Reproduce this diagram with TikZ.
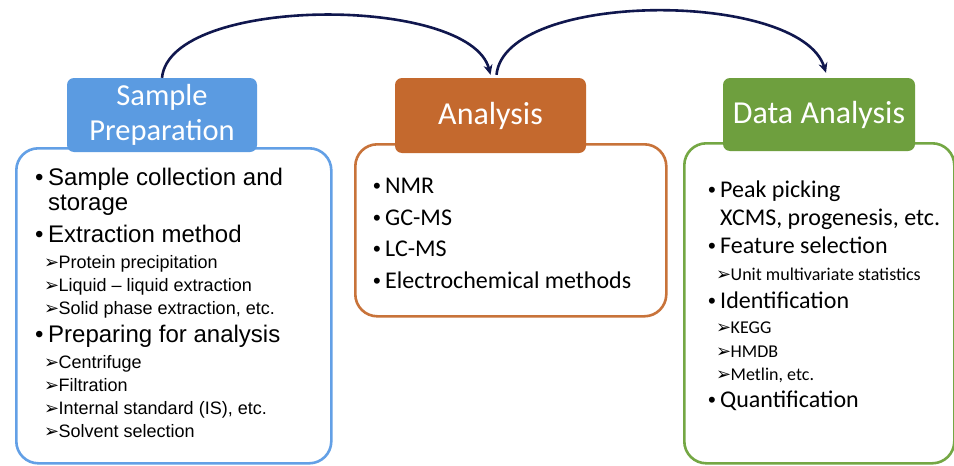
\documentclass[tikz,border=0pt]{standalone}
\usepackage{fontspec}
\setmainfont{Liberation Sans}
\newfontfamily\calfont{Carlito}
\newfontfamily\dvfont{DejaVu Sans}
\newfontfamily\lsfont{Liberation Sans}
\usetikzlibrary{arrows.meta}
\definecolor{spfill}{HTML}{5B9BE1}
\definecolor{spline}{HTML}{63A0E6}
\definecolor{anfill}{HTML}{C4692E}
\definecolor{anline}{HTML}{C8733A}
\definecolor{dafill}{HTML}{6E9F3E}
\definecolor{daline}{HTML}{74A744}
\definecolor{navy}{HTML}{10174E}
\newcommand\bulit[1]{\makebox[13pt][l]{\lsfont •}#1}
\newcommand\cbulit[1]{\makebox[12pt][l]{\lsfont\fontsize{22}{22}\selectfont •}#1}
\newcommand\subit[1]{\makebox[14.5pt][l]{\dvfont\fontsize{18}{18}\selectfont ➢}#1}
\begin{document}
\begin{tikzpicture}[x=1pt,y=-1pt,
  body/.style={draw, line width=2.6pt, rounded corners=22pt, fill=white, inner sep=0pt, anchor=north west},
  hdr/.style={rounded corners=7pt, text=white, align=center, inner sep=0pt, font=\calfont\fontsize{32}{35}\selectfont},
  txt/.style={anchor=base west, inner sep=0pt},
  big/.style={txt, font=\fontsize{24}{28}\selectfont},
  small/.style={txt, font=\fontsize{18}{21}\selectfont},
  cbig/.style={txt, font=\calfont\fontsize{24}{28}\selectfont},
  csmall/.style={txt, font=\calfont\fontsize{18}{21}\selectfont},
  flow/.style={draw=navy, line width=2.6pt, -{Stealth[length=10pt,width=9pt]}}]
\useasboundingbox (0,0) rectangle (954,466);
\fill[white] (0,0) rectangle (954,466);

% body boxes
\node[body, draw=spline, minimum width=315pt, minimum height=315pt] (spbody) at (15,147) {};
\node[body, draw=anline, minimum width=311pt, minimum height=172pt] (anbody) at (354,143) {};
\node[body, draw=daline, minimum width=270pt, minimum height=320pt] (dabody) at (683,142) {};

% headers
\node[hdr, fill=spfill, minimum width=190pt, minimum height=74pt, font=\calfont\fontsize{30.5}{35}\selectfont] (sp) at (162,115) {Sample\\Preparation};
\node[hdr, fill=anfill, minimum width=191pt, minimum height=75pt] (an) at (490.5,115.5) {Analysis};
\node[hdr, fill=dafill, minimum width=192pt, minimum height=73pt] (da) at (819,114.5) {Data Analysis};

% arrows
\draw[flow] (sp.north) .. controls (170,-5) and (470,-5) .. ([yshift=3pt]an.north);
\draw[flow] ([xshift=6pt,yshift=3pt]an.north) .. controls (505,-10) and (800,-10) .. ([xshift=7pt,yshift=5pt]da.north);

% left text
\node[big] (s1) at (35,185) {\bulit{Sample collection and}};
\node[big] (s2) at (48,210) {storage};
\node[big] (s3) at (35,242) {\bulit{Extraction method}};
\node[small] (s4) at (44,268) {\subit{Protein precipitation}};
\node[small] (s5) at (44,291) {\subit{Liquid -- liquid extraction}};
\node[small] (s6) at (44,314) {\subit{Solid phase extraction, etc.}};
\node[big] (s7) at (35,342) {\bulit{Preparing for analysis}};
\node[small] (s8) at (44,368) {\subit{Centrifuge}};
\node[small] (s9) at (44,391) {\subit{Filtration}};
\node[small] (s10) at (44,414) {\subit{Internal standard (IS), etc.}};
\node[small] (s11) at (44,437) {\subit{Solvent selection}};

% middle text
\node[cbig] (a1) at (373,193) {\cbulit{NMR}};
\node[cbig] (a2) at (373,225) {\cbulit{GC-MS}};
\node[cbig] (a3) at (373,256) {\cbulit{LC-MS}};
\node[cbig] (a4) at (373,288) {\cbulit{Electrochemical methods}};

% right text
\node[cbig] (d1) at (708,197) {\cbulit{Peak picking}};
\node[cbig] (d2) at (720,225) {XCMS, progenesis, etc.};
\node[cbig] (d3) at (708,253) {\cbulit{Feature selection}};
\node[csmall] (d4) at (716,280) {\subit{Unit multivariate statistics}};
\node[cbig] (d5) at (708,308) {\cbulit{Identification}};
\node[csmall] (d6) at (716,333) {\subit{KEGG}};
\node[csmall] (d7) at (716,357) {\subit{HMDB}};
\node[csmall] (d8) at (716,380) {\subit{Metlin, etc.}};
\node[cbig] (d9) at (708,407) {\cbulit{Quantification}};
\end{tikzpicture}
\end{document}
